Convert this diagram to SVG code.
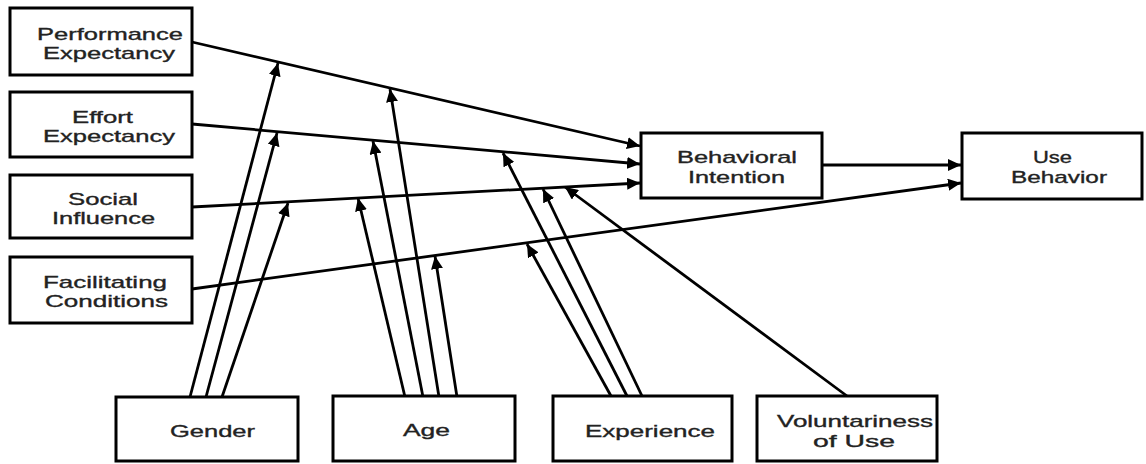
<svg xmlns="http://www.w3.org/2000/svg" width="1146" height="464" viewBox="0 0 1146 464">
<defs>
<style>
.box{fill:#fff;stroke:#000;stroke-width:3}
.t{font-family:"Liberation Sans",Arial,sans-serif;font-size:17px;fill:#222;stroke:#222;stroke-width:0.35}
.c{stroke:#000;stroke-width:2.8;fill:none;marker-end:url(#ah)}
</style>
<marker id="ah" markerUnits="userSpaceOnUse" markerWidth="13" markerHeight="12" refX="13" refY="6" orient="auto">
<path d="M0,0 L13,6 L0,12 z" fill="#000"/>
</marker>
</defs>
<rect width="1146" height="464" fill="#fff"/>
<g id="connectors">
<line class="c" x1="192" y1="42" x2="640" y2="146"/>
<line class="c" x1="192" y1="124" x2="640" y2="164"/>
<line class="c" x1="192" y1="207" x2="640" y2="183"/>
<line class="c" x1="192" y1="289" x2="961" y2="183"/>
<line class="c" x1="822" y1="165" x2="961" y2="165"/>
<line class="c" x1="190" y1="397" x2="278" y2="63"/>
<line class="c" x1="206" y1="397" x2="277" y2="133"/>
<line class="c" x1="222" y1="397" x2="288" y2="203"/>
<line class="c" x1="405" y1="397" x2="358" y2="198"/>
<line class="c" x1="423" y1="397" x2="373" y2="141"/>
<line class="c" x1="439" y1="397" x2="390" y2="89"/>
<line class="c" x1="457" y1="397" x2="435" y2="256"/>
<line class="c" x1="611" y1="396" x2="527" y2="244"/>
<line class="c" x1="627" y1="396" x2="503" y2="153"/>
<line class="c" x1="642" y1="396" x2="543" y2="189"/>
<line class="c" x1="847" y1="396" x2="565" y2="187"/>
</g>
<g id="pe"><rect class="box" x="10" y="8" width="182" height="67"/>
<text class="t" x="37" y="40" textLength="146" lengthAdjust="spacingAndGlyphs">Performance</text>
<text class="t" x="43" y="59" textLength="132" lengthAdjust="spacingAndGlyphs">Expectancy</text></g>
<g id="ee"><rect class="box" x="10" y="92" width="182" height="65"/>
<text class="t" x="72" y="123" textLength="61" lengthAdjust="spacingAndGlyphs">Effort</text>
<text class="t" x="43" y="142" textLength="132" lengthAdjust="spacingAndGlyphs">Expectancy</text></g>
<g id="si"><rect class="box" x="10" y="175" width="182" height="63"/>
<text class="t" x="68" y="205" textLength="70" lengthAdjust="spacingAndGlyphs">Social</text>
<text class="t" x="52" y="224" textLength="103" lengthAdjust="spacingAndGlyphs">Influence</text></g>
<g id="fc"><rect class="box" x="10" y="257" width="182" height="66"/>
<text class="t" x="43" y="288" textLength="124" lengthAdjust="spacingAndGlyphs">Facilitating</text>
<text class="t" x="45" y="307" textLength="123" lengthAdjust="spacingAndGlyphs">Conditions</text></g>
<g id="bi"><rect class="box" x="641" y="133" width="181" height="65"/>
<text class="t" x="677" y="163" textLength="120" lengthAdjust="spacingAndGlyphs">Behavioral</text>
<text class="t" x="688" y="183" textLength="97" lengthAdjust="spacingAndGlyphs">Intention</text></g>
<g id="ub"><rect class="box" x="962" y="133" width="180" height="66"/>
<text class="t" x="1033" y="163" textLength="39" lengthAdjust="spacingAndGlyphs">Use</text>
<text class="t" x="1011" y="183" textLength="96" lengthAdjust="spacingAndGlyphs">Behavior</text></g>
<g id="gender"><rect class="box" x="116" y="397" width="182" height="64"/>
<text class="t" x="170" y="437" textLength="85" lengthAdjust="spacingAndGlyphs">Gender</text></g>
<g id="age"><rect class="box" x="333" y="396" width="182" height="65"/>
<text class="t" x="403" y="436" textLength="47" lengthAdjust="spacingAndGlyphs">Age</text></g>
<g id="experience"><rect class="box" x="553" y="396" width="179" height="65"/>
<text class="t" x="585" y="437" textLength="130" lengthAdjust="spacingAndGlyphs">Experience</text></g>
<g id="voluntariness"><rect class="box" x="757" y="396" width="180" height="65"/>
<text class="t" x="777" y="427" textLength="156" lengthAdjust="spacingAndGlyphs">Voluntariness</text>
<text class="t" x="813" y="447" textLength="82" lengthAdjust="spacingAndGlyphs">of Use</text></g>
</svg>
